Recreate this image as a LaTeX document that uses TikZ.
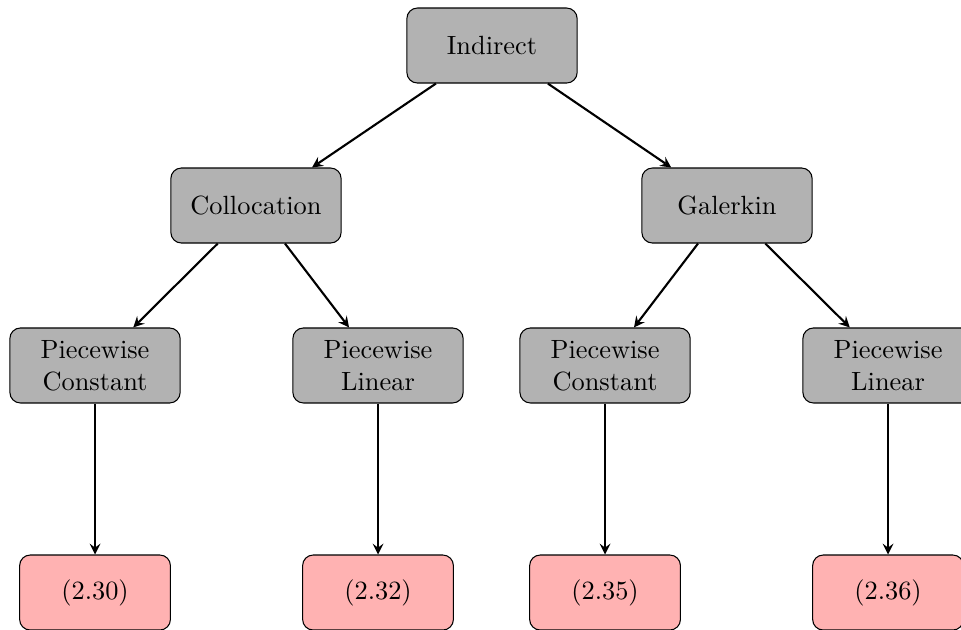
\documentclass[tikz,border=0pt]{standalone}
\usetikzlibrary{arrows}

\begin{document}
\begin{tikzpicture}[
    method/.style={draw, rounded corners, fill=black!30, minimum width=2.27cm, minimum height=1cm, align=center},
    eqbox/.style={draw, rounded corners, fill=red!30, minimum width=2.01cm, minimum height=1cm, align=center},
    link/.style={-stealth, thick}]
  \useasboundingbox (0, 0) rectangle (12.813, -8.387);

  % Top level
  \node[method] (indirect) at (6.56, -0.607) {Indirect};

  % Second level
  \node[method] (colloc) at (3.413, -2.74) {Collocation};
  \node[method] (galerkin) at (9.693, -2.74) {Galerkin};

  % Discretisations
  \node[method] (colpc) at (1.267, -4.873) {Piecewise\\Constant};
  \node[method] (colpl) at (5.04, -4.873) {Piecewise\\Linear};
  \node[method] (galpc) at (8.067, -4.873) {Piecewise\\Constant};
  \node[method] (galpl) at (11.84, -4.873) {Piecewise\\Linear};

  % Equation references
  \node[eqbox] (eqa) at (1.267, -7.9) {(2.30)};
  \node[eqbox] (eqb) at (5.04, -7.9) {(2.32)};
  \node[eqbox] (eqc) at (8.067, -7.9) {(2.35)};
  \node[eqbox] (eqd) at (11.84, -7.9) {(2.36)};

  % Connections
  \draw[link] (indirect) -- (colloc);
  \draw[link] (indirect) -- (galerkin);
  \draw[link] (colloc) -- (colpc);
  \draw[link] (colloc) -- (colpl);
  \draw[link] (galerkin) -- (galpc);
  \draw[link] (galerkin) -- (galpl);
  \draw[link] (colpc) -- (eqa);
  \draw[link] (colpl) -- (eqb);
  \draw[link] (galpc) -- (eqc);
  \draw[link] (galpl) -- (eqd);
\end{tikzpicture}
\end{document}
